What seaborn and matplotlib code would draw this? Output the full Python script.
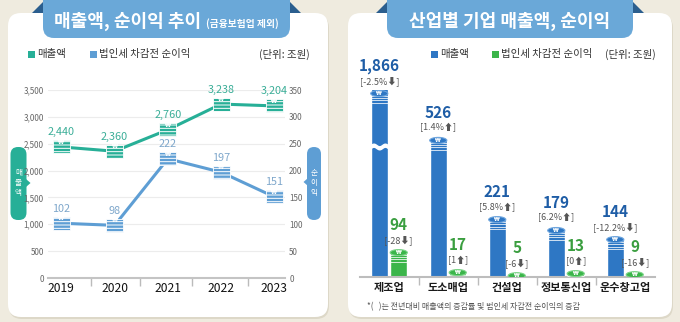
import numpy as np
import pandas as pd
import matplotlib
matplotlib.use('Agg')
import matplotlib.pyplot as plt
import seaborn as sns
from matplotlib.patches import FancyBboxPatch, Ellipse, Polygon, Rectangle
from matplotlib.path import Path

# ---------------- data ----------------
years = ['2019', '2020', '2021', '2022', '2023']
sales = [2440, 2360, 2760, 3238, 3204]
profit = [102, 98, 222, 197, 151]

industries = ['제조업', '도소매업', '건설업', '정보통신업', '운수창고업']
ind_sales = [1866, 526, 221, 179, 144]
ind_profit = [94, 17, 5, 13, 9]
sales_chg = ['[-2.5%⬇]', '[1.4%⬆]', '[5.8%⬆]', '[6.2%⬆]', '[-12.2%⬇]']
profit_chg = ['[-28⬇]', '[1⬆]', '[-6⬇]', '[0⬆]', '[-16⬇]']

# ---------------- style ----------------
sns.set_theme(style='white')
plt.rcParams['font.family'] = ['Noto Sans CJK KR', 'DejaVu Sans']
plt.rcParams['axes.unicode_minus'] = False
plt.rcParams['hatch.linewidth'] = 0.7

BG = '#EFEBDF'
TEAL = '#27AF97'
TEAL_T = '#3BAE98'
LBLUE = '#5E9ED4'
LBLUE_T = '#7EA7CB'
BANNER = '#6AA8D8'
BANNER_D = '#2B5E8E'
BAR_BLUE = '#2E77C4'
BAR_GREEN = '#3BB54A'
VAL_BLUE = '#1E5DA6'
VAL_GREEN = '#3A9E3F'

W, H = 680, 322
fig = plt.figure(figsize=(6.8, 3.22), dpi=100)
fig.patch.set_facecolor(BG)

bg = fig.add_axes([0, 0, 1, 1])
bg.set_xlim(0, W)
bg.set_ylim(H, 0)
bg.axis('off')
bg.set_zorder(0)

# panels
for x0, x1 in [(8, 328), (348, 672)]:
    bg.add_patch(FancyBboxPatch((x0 + 1, 15), x1 - x0, 304, boxstyle='round,pad=0,rounding_size=13',
                                fc='#DDD8C8', ec='none'))
    bg.add_patch(FancyBboxPatch((x0, 13), x1 - x0, 304, boxstyle='round,pad=0,rounding_size=13',
                                fc='white', ec='none'))

# banners
def banner(x0, x1):
    bg.add_patch(Polygon([(x0 - 11, 13), (x0 + 1, 1), (x0 + 1, 13)], closed=True, fc=BANNER_D, ec='none'))
    bg.add_patch(Polygon([(x1 + 11, 13), (x1 - 1, 1), (x1 - 1, 13)], closed=True, fc=BANNER_D, ec='none'))
    bg.add_patch(FancyBboxPatch((x0, -14), x1 - x0, 52, boxstyle='round,pad=0,rounding_size=11',
                                fc=BANNER, ec='none'))

banner(43, 290)
banner(387, 633)
bg.text(54, 21, '매출액, 순이익 추이', color='white', fontsize=13, fontweight='bold', ha='left', va='center')
bg.text(206, 23.5, '(금융보험업 제외)', color='white', fontsize=7, fontweight='bold', ha='left', va='center')
bg.text(510, 21, '산업별 기업 매출액, 순이익', color='white', fontsize=13, fontweight='bold', ha='center', va='center')

# legends
def legend_item(x, y, color, label):
    bg.add_patch(Rectangle((x, y - 3.5), 7, 7, fc=color, ec='none'))
    bg.text(x + 9, y, label, fontsize=7.5, color='#333', ha='left', va='center')

legend_item(28, 54, TEAL, '매출액')
legend_item(90, 54, LBLUE, '법인세 차감전 순이익')
bg.text(310, 54, '(단위: 조원)', fontsize=7.5, color='#333', ha='right', va='center')
legend_item(431, 54, BAR_BLUE, '매출액')
legend_item(492, 54, BAR_GREEN, '법인세 차감전 순이익')
bg.text(656, 54, '(단위: 조원)', fontsize=7.5, color='#333', ha='right', va='center')

# side pills with pointers
bg.add_patch(Polygon([(26, 179), (30.5, 183), (26, 187)], closed=True, fc=TEAL, ec='none'))
bg.add_patch(FancyBboxPatch((10.5, 147), 16, 73, boxstyle='round,pad=0,rounding_size=7.5', fc=TEAL, ec='none'))
for k, ch in enumerate('매출액'):
    bg.text(18.5, 173 + k * 10, ch, fontsize=5.5, color='white', ha='center', va='center')
bg.add_patch(Polygon([(308, 178), (303.5, 182), (308, 186)], closed=True, fc=LBLUE, ec='none'))
bg.add_patch(FancyBboxPatch((307, 147), 14, 73, boxstyle='round,pad=0,rounding_size=7', fc=LBLUE, ec='none'))
for k, ch in enumerate('순이익'):
    bg.text(314, 173 + k * 10, ch, fontsize=5.5, color='white', ha='center', va='center')

# footnote
bg.text(367, 307, '*(   )는 전년대비 매출액의 증감률 및 법인세 차감전 순이익의 증감', fontsize=5.8,
        color='#555', ha='left', va='center')

# ---------------- left line chart ----------------
ax1 = fig.add_axes([48 / W, (H - 278) / H, 237 / W, 188 / H])
ax1.set_facecolor('none')
ax1.set_zorder(2)
df_line = pd.DataFrame({'year': years, 'x': np.arange(len(years)), 'sales': sales, 'profit': profit})

sns.lineplot(data=df_line, x='x', y='sales', ax=ax1, color=TEAL, lw=2.2, zorder=3)
ax2 = ax1.twinx()
ax2.set_zorder(3)
ax2.patch.set_visible(False)
sns.lineplot(data=df_line, x='x', y='profit', ax=ax2, color=LBLUE, lw=2.2, zorder=3)

coin = Path([(-0.65, -0.5), (0.65, -0.5), (0.65, 0.5), (-0.65, 0.5), (-0.65, -0.5)],
            [Path.MOVETO, Path.LINETO, Path.LINETO, Path.LINETO, Path.CLOSEPOLY])

for ax, col, tcol, ycol in [(ax1, TEAL, TEAL_T, 'sales'), (ax2, LBLUE, LBLUE_T, 'profit')]:
    ax.scatter(df_line['x'], df_line[ycol], marker=coin, s=150, facecolor=col, edgecolor='white',
               hatch='-----', linewidth=0.6, zorder=4, clip_on=False)
    for xi, v in zip(df_line['x'], df_line[ycol]):
        ax.annotate('₩', (xi, v), xytext=(0, 3.2), textcoords='offset points', ha='center', va='center',
                    fontsize=4, color='white', fontweight='bold', zorder=6, family='DejaVu Sans')
        ax.annotate(f'{int(v):,}', (xi, v), xytext=(0, 10.5), textcoords='offset points', ha='center',
                    va='center', fontsize=7.8, color=tcol, zorder=6)

ax1.set_xlim(-0.25, 4.2)
ax1.set_ylim(0, 3500)
ax2.set_ylim(0, 350)
ax1.set_yticks(range(0, 3501, 500))
ax1.set_yticklabels([f'{v:,}' for v in range(0, 3501, 500)])
ax2.set_yticks(range(0, 351, 50))
ax2.set_yticklabels([str(v) for v in range(0, 351, 50)])
for ax in (ax1, ax2):
    ax.tick_params(axis='y', length=0, labelsize=5.8, labelcolor='#666', pad=3)
    ax.set_xlabel('')
    ax.set_ylabel('')
    for s in ax.spines.values():
        s.set_visible(False)
ax1.grid(axis='y', color='#ECECEC', lw=0.8)
ax1.set_axisbelow(True)
ax1.spines['bottom'].set_visible(True)
ax1.spines['bottom'].set_color('#C4C4C4')
ax1.spines['bottom'].set_linewidth(1.5)
ax1.set_xticks(range(len(years)))
ax1.set_xticklabels(years)
ax1.set_xticks([0.55, 1.47, 2.45, 3.5], minor=True)
ax1.tick_params(axis='x', which='major', length=0, labelsize=8.7, labelcolor='#111', pad=3)
ax1.tick_params(axis='x', which='minor', length=6, width=1, color='#BBBBBB', direction='out', bottom=True)

# ---------------- right bar chart ----------------
ax3 = fig.add_axes([359.5 / W, (H - 277) / H, 295 / W, 187 / H])
ax3.set_facecolor('none')
ax3.set_zorder(2)
df_bar = pd.DataFrame({
    '업종': industries * 2,
    '구분': ['매출액'] * len(industries) + ['법인세 차감전 순이익'] * len(industries),
    '값': ind_sales + ind_profit,
})
sns.barplot(data=df_bar, x='업종', y='값', hue='구분', palette=[BAR_BLUE, BAR_GREEN], width=0.66,
            gap=0.12, saturation=1, ax=ax3, legend=False, zorder=2)
YMAX = 720
ax3.set_ylim(0, YMAX)
ax3.set_xlim(-0.5, len(industries) - 0.5)
ppu = 187 / YMAX  # pixels per data unit

light = {0: '#6FA6DE', 1: '#7BD487'}
for ci, (cont, chg, vcol) in enumerate([(ax3.containers[0], sales_chg, VAL_BLUE),
                                       (ax3.containers[1], profit_chg, VAL_GREEN)]):
    for bar, lab in zip(cont, chg):
        x, w, h = bar.get_x(), bar.get_width(), bar.get_height()
        eh = 6 / ppu
        top = min(h, YMAX - 3.5 / ppu)
        for k in range(1, 5):
            yy = top - k * 2.3 / ppu
            if yy > 0:
                ax3.plot([x, x + w], [yy, yy], color='white', lw=0.6, alpha=0.9, zorder=3, solid_capstyle='butt')
        ax3.add_patch(Ellipse((x + w / 2, top), w, eh, fc=bar.get_facecolor(), ec=light[ci], lw=0.8, zorder=4))
        ax3.text(x + w / 2, top, '₩', fontsize=3.8, color='white', ha='center', va='center',
                 fontweight='bold', zorder=5, family='DejaVu Sans')
        if h > YMAX:
            yb = 129 / ppu
            xs = np.linspace(x - 0.01, x + w + 0.01, 40)
            wave = 1.3 / ppu * np.sin((xs - x) / w * 2 * np.pi * 1.5)
            ax3.fill_between(xs, yb + wave, yb + wave + 3 / ppu, color='white', zorder=4)
        ax3.annotate(f'{int(round(h)):,}', (x + w / 2, top), xytext=(0, 20), textcoords='offset points',
                     ha='center', va='center', fontsize=11, fontweight='bold', color=vcol, annotation_clip=False)
        ax3.annotate(lab, (x + w / 2, top), xytext=(0, 9), textcoords='offset points', ha='center',
                     va='center', fontsize=6.5, color='#555', annotation_clip=False)

for s in ax3.spines.values():
    s.set_visible(False)
ax3.spines['bottom'].set_visible(True)
ax3.spines['bottom'].set_color('#BDBDBD')
ax3.spines['bottom'].set_linewidth(1.5)
ax3.set_yticks([])
ax3.set_xlabel('')
ax3.set_ylabel('')
ax3.set_xticks([i + 0.5 for i in range(len(industries) - 1)], minor=True)
ax3.tick_params(axis='x', which='major', length=0, labelsize=8, labelcolor='#1A1A1A', pad=3)
for t in ax3.get_xticklabels():
    t.set_fontweight('bold')
ax3.tick_params(axis='x', which='minor', length=6, width=1, color='#BBBBBB', direction='out', bottom=True)

fig.savefig('out.png', dpi=100, facecolor=BG)
